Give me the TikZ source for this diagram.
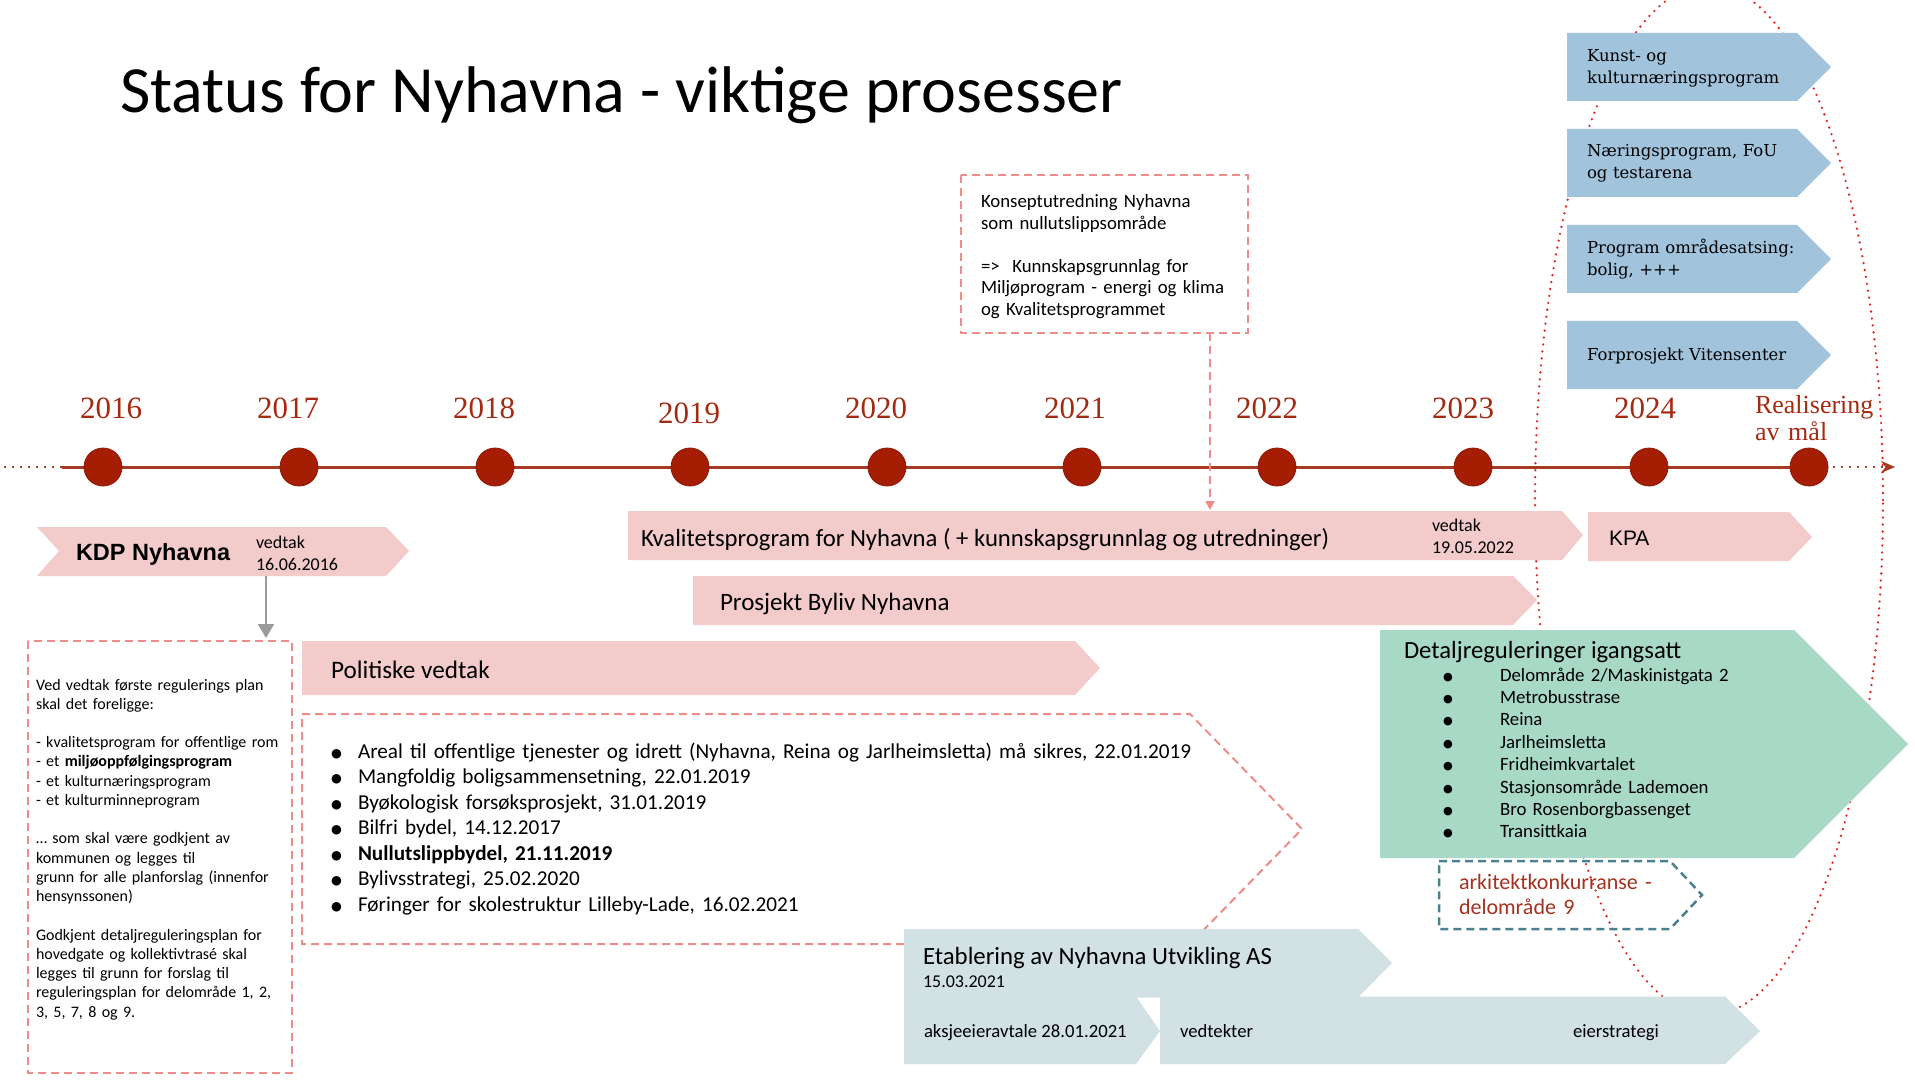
\documentclass[tikz,border=0pt]{standalone}
\usepackage{fontspec}
\setmainfont{Carlito}
\newfontfamily\yearfont{Liberation Serif}
\newfontfamily\bluefont{DejaVu Serif}
\newfontfamily\arialfont{Liberation Sans}
\newfontfamily\symfont{DejaVu Sans}
\usetikzlibrary{arrows.meta}
\definecolor{pinkfill}{HTML}{F3CBCB}
\definecolor{pinkdash}{HTML}{EE8C8C}
\definecolor{bluefill}{HTML}{A1C4DC}
\definecolor{greenfill}{HTML}{A8D8C6}
\definecolor{grayfill}{HTML}{D1E1E4}
\definecolor{dotred}{HTML}{A51D02}
\definecolor{yearred}{HTML}{A52A12}
\definecolor{linered}{HTML}{A63A22}
\definecolor{tealdash}{HTML}{4A8090}
\definecolor{arkred}{HTML}{A33220}
\definecolor{ellred}{HTML}{E02828}
\definecolor{arrowgray}{HTML}{9B9B9B}
\newcommand\bulA{\makebox[13.5pt][l]{\raisebox{0.5pt}{\symfont\fontsize{6.2pt}{6.2pt}\selectfont ●}}}
\newcommand\bulB{\makebox[28.5pt][l]{\raisebox{0.5pt}{\symfont\fontsize{5.6pt}{5.6pt}\selectfont ●}}}
\begin{document}
\begin{tikzpicture}[x=0.5pt,y=-0.5pt,
  txt/.style={inner sep=0pt, outer sep=0pt, anchor=base west},
  mtxt/.style={inner sep=0pt, outer sep=0pt, anchor=base west, align=left, text width=#1},
  year/.style={inner sep=0pt, text=yearred, font=\yearfont\fontsize{15.5pt}{18pt}\selectfont},
  yeardot/.style={circle, fill=dotred, draw=dotred!85!black, line width=0.4pt, minimum size=19pt, inner sep=0pt},
  dashpink/.style={draw=pinkdash, line width=1pt, dash pattern=on 4pt off 2.5pt},
  bluebox/.style={fill=bluefill},
  bluetxt/.style={inner sep=0pt, outer sep=0pt, anchor=base west, align=left, text width=120pt, font=\bluefont\fontsize{8.25pt}{11pt}\selectfont},
  timedots/.style={draw=linered, line width=1.1pt, dash pattern=on 1pt off 3pt}
]
\fill[white] (0,0) rectangle (1915,1080);
\useasboundingbox (0,0) rectangle (1915,1080);

% realisation ellipse (behind everything)
\draw[ellred, line width=1.3pt, line cap=round, dash pattern=on 0pt off 3.5pt] (1709,500) ellipse [x radius=87pt, y radius=257.5pt];

% title
\node[txt, font=\fontsize{33pt}{39pt}\selectfont] (title) at (120,113) {Status for Nyhavna - viktige prosesser};

% timeline
\coordinate (tlstart) at (4,467);
\coordinate (tla) at (62,467);
\coordinate (tlb) at (1809,467);
\coordinate (tlend) at (1895,467);
\draw[timedots] (tlstart) -- (tla);
\draw[linered, line width=1.5pt] (tla) -- (tlb);
\draw[timedots, -{Stealth[length=7pt,width=6pt]}] (tlb) -- (tlend);
\foreach \x/\n in {103/d16,299/d17,495/d18,690/d19,887/d20,1082/d21,1277/d22,1473/d23,1649/d24,1809/dreal}
  \node[yeardot] (\n) at (\x,467) {};
\node[year] (y16) at (111,408) {2016};
\node[year] (y17) at (288,408) {2017};
\node[year] (y18) at (484,408) {2018};
\node[year] (y19) at (689,413) {2019};
\node[year] (y20) at (876,408) {2020};
\node[year] (y21) at (1075,408) {2021};
\node[year] (y22) at (1267,408) {2022};
\node[year] (y23) at (1463,408) {2023};
\node[year] (y24) at (1645,408) {2024};
\node[mtxt=80pt, text=yearred, font=\yearfont\fontsize{13pt}{13.5pt}\selectfont] (real) at (1755,413) {Realisering\\av mål};

% blue programme boxes
\foreach \t in {33,129,225,321}
  \fill[bluebox] (1567,\t) -- (1797,\t) -- (1831,\t+34) -- (1797,\t+68) -- (1567,\t+68) -- cycle;
\node[bluetxt] (kunst) at (1587,62) {Kunst- og\\kulturnæringsprogram};
\node[bluetxt] (naering) at (1587,157) {Næringsprogram, FoU\\og testarena};
\node[bluetxt] (omrade) at (1587,254) {Program områdesatsing:\\bolig, +++};
\node[bluetxt] (viten) at (1587,360) {Forprosjekt Vitensenter};

% KDP
\fill[pinkfill] (37,527) -- (386,527) -- (409,551) -- (386,576) -- (37,576) -- (59,551) -- cycle;
\node[txt, font=\arialfont\bfseries\fontsize{11.75pt}{14pt}\selectfont] (kdp) at (76,560) {KDP Nyhavna};
\node[mtxt=60pt, font=\fontsize{9pt}{11pt}\selectfont] (kdpvedtak) at (256,548) {vedtak\\16.06.2016};
\coordinate (kdpfoot) at (266,576);
\coordinate (ledtop) at (266,638);
\draw[arrowgray, line width=1pt, -{Triangle[width=8pt,length=7pt]}] (kdpfoot) -- (ledtop);

% left dashed box
\draw[dashpink] (28,641) rectangle (292,1073);
\node[mtxt=160pt, font=\fontsize{8pt}{9.62pt}\selectfont] (ledtext) at (36,690) {Ved vedtak første regulerings plan\\skal det foreligge:\\~\\- kvalitetsprogram for offentlige rom\\- et \textbf{miljøoppfølgingsprogram}\\- et kulturnæringsprogram\\- et kulturminneprogram\\~\\… som skal være godkjent av\\kommunen og legges til\\grunn for alle planforslag (innenfor\\hensynssonen)\\~\\Godkjent detaljreguleringsplan for\\hovedgate og kollektivtrasé skal\\legges til grunn for forslag til\\reguleringsplan for delområde 1, 2,\\3, 5, 7, 8 og 9.};

% Politiske vedtak
\fill[pinkfill] (302,641) -- (1075,641) -- (1100,668) -- (1075,695) -- (302,695) -- cycle;
\node[txt, font=\fontsize{12.6pt}{14pt}\selectfont] (pol) at (331,678) {Politiske vedtak};
\draw[dashpink] (302,714) -- (1190,714) -- (1302,829) -- (1190,944) -- (302,944) -- cycle;
\node[mtxt=520pt, font=\fontsize{10.6pt}{12.75pt}\selectfont] (pollist) at (331,758) {\bulA Areal til offentlige tjenester og idrett (Nyhavna, Reina og Jarlheimsletta) må sikres, 22.01.2019\\\bulA Mangfoldig boligsammensetning, 22.01.2019\\\bulA Byøkologisk forsøksprosjekt, 31.01.2019\\\bulA Bilfri bydel, 14.12.2017\\\bulA \textbf{Nullutslippbydel, 21.11.2019}\\\bulA Bylivsstrategi, 25.02.2020\\\bulA Føringer for skolestruktur Lilleby-Lade, 16.02.2021};

% Konseptutredning
\draw[dashpink] (961,175) rectangle (1248,333);
\node[mtxt=140pt, font=\fontsize{9.4pt}{10.75pt}\selectfont] (kons) at (981,208) {Konseptutredning Nyhavna\\som nullutslippsområde\\~\\=>~ Kunnskapsgrunnlag for\\Miljøprogram - energi og klima\\og Kvalitetsprogrammet};
\coordinate (konsfoot) at (1210,333);
\coordinate (kvaltop) at (1210,510);
\draw[dashpink, -{Triangle[width=4.5pt,length=4.5pt]}] (konsfoot) -- (kvaltop);

% Kvalitetsprogram
\fill[pinkfill] (628,511) -- (1562,511) -- (1583,535) -- (1562,560) -- (628,560) -- cycle;
\node[txt, font=\fontsize{12.35pt}{14pt}\selectfont] (kval) at (641,546) {Kvalitetsprogram for Nyhavna ( + kunnskapsgrunnlag og utredninger)};
\node[mtxt=60pt, font=\fontsize{9pt}{11pt}\selectfont] (kvalvedtak) at (1432,531) {vedtak\\19.05.2022};

% KPA
\fill[pinkfill] (1588,512) -- (1789,512) -- (1812,537) -- (1789,561) -- (1588,561) -- cycle;
\node[txt, font=\arialfont\fontsize{10.5pt}{12pt}\selectfont] (kpa) at (1609,545) {KPA};

% Prosjekt Byliv
\fill[pinkfill] (693,576) -- (1513,576) -- (1537,600) -- (1513,625) -- (693,625) -- cycle;
\node[txt, font=\fontsize{12.5pt}{14pt}\selectfont] (byliv) at (720,610) {Prosjekt Byliv Nyhavna};

% Detaljreguleringer
\fill[greenfill] (1380,630) -- (1794,630) -- (1908,744) -- (1794,858) -- (1380,858) -- cycle;
\node[txt, font=\fontsize{12.35pt}{14pt}\selectfont] (detal) at (1404,658) {Detaljreguleringer igangsatt};
\node[mtxt=250pt, font=\fontsize{9.4pt}{11.2pt}\selectfont] (detlist) at (1443,681) {\bulB Delområde 2/Maskinistgata 2\\\bulB Metrobusstrase\\\bulB Reina\\\bulB Jarlheimsletta\\\bulB Fridheimkvartalet\\\bulB Stasjonsområde Lademoen\\\bulB Bro Rosenborgbassenget\\\bulB Transittkaia};

% arkitektkonkurranse
\draw[tealdash, line width=1.25pt, dash pattern=on 4pt off 2.5pt] (1439,861) -- (1670,861) -- (1702,895) -- (1670,929) -- (1439,929) -- cycle;
\node[mtxt=110pt, text=arkred, font=\fontsize{11pt}{12.5pt}\selectfont] (ark) at (1459,889) {arkitektkonkurranse -\\delområde 9};

% Etablering
\fill[grayfill] (904,929) -- (1358,929) -- (1392,963) -- (1358,997.5) -- (904,997.5) -- cycle;
\fill[grayfill] (904,996.5) -- (1136,996.5) -- (1160,1031) -- (1136,1064) -- (904,1064) -- cycle;
\fill[grayfill] (1160,996.5) -- (1725,996.5) -- (1760,1031) -- (1725,1064) -- (1160,1064) -- cycle;
\node[txt, font=\fontsize{12.4pt}{14pt}\selectfont] (etab) at (923,964) {Etablering av Nyhavna Utvikling AS};
\node[txt, font=\fontsize{9pt}{11pt}\selectfont] (etabdate) at (923,987) {15.03.2021};
\node[txt, font=\fontsize{9.35pt}{11pt}\selectfont] (aksje) at (924,1037) {aksjeeieravtale 28.01.2021};
\node[txt, font=\fontsize{9.35pt}{11pt}\selectfont] (vedt) at (1180,1037) {vedtekter};
\node[txt, font=\fontsize{9.35pt}{11pt}\selectfont] (eier) at (1573,1037) {eierstrategi};
\end{tikzpicture}
\end{document}
